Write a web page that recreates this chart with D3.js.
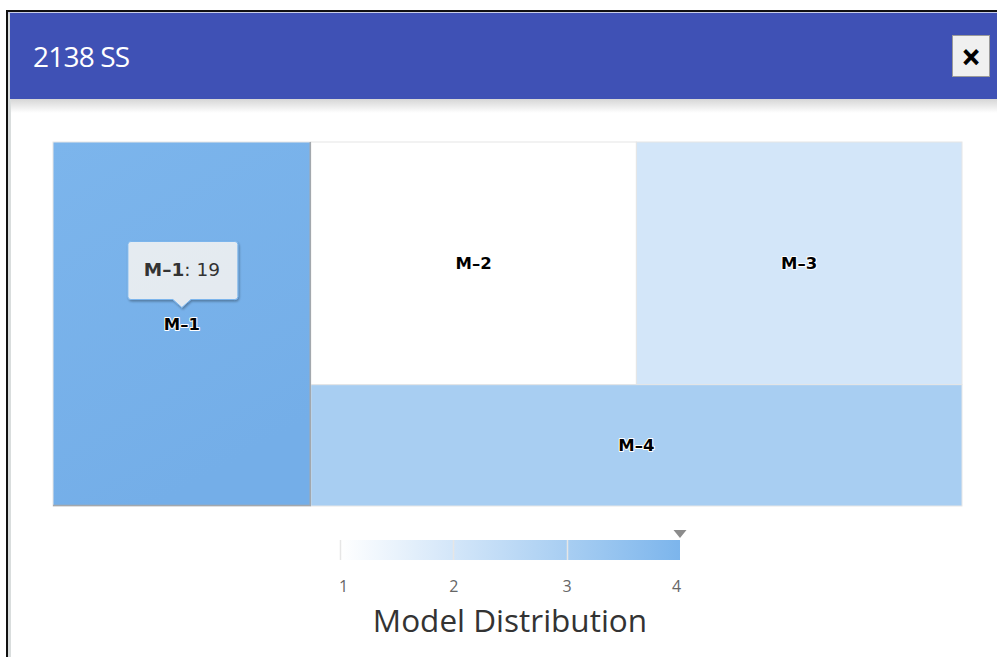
<!DOCTYPE html>
<html>
<head>
<meta charset="utf-8">
<script src="https://cdn.jsdelivr.net/npm/d3@7"></script>
<style>
  body { margin: 0; background: #fff; }
  svg { display: block; }
</style>
</head>
<body>
<div id="chart"></div>
<script>
// Data
const dialogTitle = "2138 SS";
const models = ["M–1", "M–2", "M–3", "M–4"];
const modelCounts = [19, 16, 16, 16];
const modelColorValues = [4, 1, 2, 3];
const colorTicks = [1, 2, 3, 4];
const legendTitle = "Model Distribution";
const hoveredModel = "M–1";

const width = 997;
const height = 657;

const svg = d3.select("#chart")
  .append("svg")
  .attr("width", width)
  .attr("height", height);

const defs = svg.append("defs");

// header shadow
const hs = defs.append("linearGradient").attr("id", "hdrShadow")
  .attr("x1", 0).attr("y1", 0).attr("x2", 0).attr("y2", 1);
hs.append("stop").attr("offset", 0).attr("stop-color", "#d6d6d6");
hs.append("stop").attr("offset", 1).attr("stop-color", "#ffffff");

const tipShadow = defs.append("filter").attr("id", "tipShadow")
  .attr("x", "-20%").attr("y", "-20%").attr("width", "150%").attr("height", "150%");
tipShadow.append("feDropShadow")
  .attr("dx", 1).attr("dy", 1.5).attr("stdDeviation", 1.2)
  .attr("flood-color", "#000").attr("flood-opacity", 0.35);

// Dialog frame
svg.append("rect").attr("x", 6).attr("y", 10).attr("width", width - 6).attr("height", 2).attr("fill", "#111");
svg.append("rect").attr("x", 6).attr("y", 10).attr("width", 2).attr("height", height - 10).attr("fill", "#111");
svg.append("rect").attr("x", 8).attr("y", 12).attr("width", 3).attr("height", height - 12).attr("fill", "#d9dddd");
svg.append("rect").attr("x", 8).attr("y", 12).attr("width", width - 8).attr("height", 2).attr("fill", "#c9cee9");

// Header
svg.append("rect").attr("x", 10).attr("y", 13).attr("width", width - 10).attr("height", 86).attr("fill", "#3f51b5");
svg.append("rect").attr("x", 11).attr("y", 99).attr("width", width - 11).attr("height", 14).attr("fill", "url(#hdrShadow)");
svg.append("text")
  .attr("x", 33).attr("y", 67)
  .attr("fill", "#fff")
  .attr("font-family", "'Open Sans', sans-serif")
  .attr("font-size", 28)
  .attr("letter-spacing", -0.8)
  .text(dialogTitle);

// Close button
svg.append("rect").attr("x", 952.5).attr("y", 35.5).attr("width", 37).attr("height", 41)
  .attr("fill", "#f0f0f0").attr("stroke", "#9a9a9a");
svg.append("text")
  .attr("x", 971).attr("y", 65)
  .attr("text-anchor", "middle")
  .attr("font-family", "'DejaVu Sans', sans-serif")
  .attr("font-weight", "bold")
  .attr("font-size", 24)
  .attr("fill", "#000")
  .attr("stroke", "#000")
  .attr("stroke-width", 1)
  .text("×");

// Treemap
const tm = { x0: 53, y0: 142, x1: 962, y1: 506 };

// alternating-direction squarified tiling
function tileAlternate(parent, x0, y0, x1, y1) {
  const nodes = parent.children;
  let rest = parent.value, i = 0;
  let vertical = (x1 - x0) >= (y1 - y0);
  while (i < nodes.length) {
    const w = x1 - x0, h = y1 - y0;
    const worst = (row, sum) => {
      let m = 0;
      row.forEach(n => {
        const a = (sum / rest) * (vertical ? w : h);
        const b = (n.value / sum) * (vertical ? h : w);
        m = Math.max(m, a / b, b / a);
      });
      return m;
    };
    let row = [nodes[i]], sum = nodes[i].value, best = worst(row, sum);
    let j = i + 1;
    while (j < nodes.length) {
      const s2 = sum + nodes[j].value, r2 = row.concat(nodes[j]);
      const wv = worst(r2, s2);
      if (wv > best) break;
      row = r2; sum = s2; best = wv; j++;
    }
    const strip = { children: row, value: sum };
    if (vertical) {
      const cw = (sum / rest) * w;
      d3.treemapSlice(strip, x0, y0, x0 + cw, y1);
      x0 += cw;
    } else {
      const ch = (sum / rest) * h;
      d3.treemapDice(strip, x0, y0, x1, y0 + ch);
      y0 += ch;
    }
    rest -= sum; i = j; vertical = !vertical;
  }
}

const root = d3.hierarchy({
  children: models.map((m, i) => ({ name: m, value: modelCounts[i], colorValue: modelColorValues[i] }))
}).sum(d => d.value || 0);

d3.treemap()
  .tile(tileAlternate)
  .size([tm.x1 - tm.x0, tm.y1 - tm.y0])(root);

const color = d3.scaleLinear()
  .domain(d3.extent(colorTicks))
  .range(["#ffffff", "#7cb5ec"]);

// hovered cell gets a slightly darker gradient
const hg = defs.append("linearGradient").attr("id", "hoverFill")
  .attr("x1", 0).attr("y1", 0).attr("x2", 0.4).attr("y2", 1);
hg.append("stop").attr("offset", 0).attr("stop-color", "#7cb5ec");
hg.append("stop").attr("offset", 1).attr("stop-color", "#74aee8");

const gTree = svg.append("g").attr("transform", `translate(${tm.x0},${tm.y0})`);

const cell = gTree.selectAll("g.cell")
  .data(root.leaves())
  .join("g")
  .attr("class", "cell");

cell.append("rect")
  .attr("x", d => d.x0)
  .attr("y", d => d.y0)
  .attr("width", d => d.x1 - d.x0)
  .attr("height", d => d.y1 - d.y0)
  .attr("fill", d => d.data.name === hoveredModel ? "url(#hoverFill)" : color(d.data.colorValue))
  .attr("stroke", "#e6e6e6")
  .attr("stroke-width", 1);

// hover edge on the hovered cell
const hov = root.leaves().find(d => d.data.name === hoveredModel);
gTree.append("path")
  .attr("d", `M${hov.x1 - 0.5},${hov.y0}V${hov.y1 - 0.5}H${hov.x0}`)
  .attr("fill", "none")
  .attr("stroke", "#a3a8ad")
  .attr("stroke-width", 1.5);

cell.append("text")
  .attr("x", d => (d.x0 + d.x1) / 2)
  .attr("y", d => (d.y0 + d.y1) / 2 + 6)
  .attr("text-anchor", "middle")
  .attr("font-family", "'DejaVu Sans', Verdana, sans-serif")
  .attr("font-weight", "bold")
  .attr("font-size", 16.5)
  .attr("fill", "#000")
  .attr("stroke", "#fff")
  .attr("stroke-width", 2)
  .attr("stroke-linejoin", "round")
  .attr("paint-order", "stroke")
  .text(d => d.data.name);

// Color axis legend
const lx = d3.scaleLinear().domain(d3.extent(colorTicks)).range([340, 680]);
const legY = 540, legH = 20;

const lg = defs.append("linearGradient").attr("id", "legendGrad")
  .attr("x1", 0).attr("y1", 0).attr("x2", 1).attr("y2", 0);
colorTicks.forEach((t, i) => {
  lg.append("stop")
    .attr("offset", i / (colorTicks.length - 1))
    .attr("stop-color", color(t));
});

svg.append("rect")
  .attr("x", lx.range()[0]).attr("y", legY)
  .attr("width", lx.range()[1] - lx.range()[0]).attr("height", legH)
  .attr("fill", "url(#legendGrad)");

svg.append("g").selectAll("line")
  .data(colorTicks.slice(0, -1))
  .join("line")
  .attr("x1", d => Math.round(lx(d)) + 0.5).attr("x2", d => Math.round(lx(d)) + 0.5)
  .attr("y1", legY).attr("y2", legY + legH)
  .attr("stroke", "#e6e6e6")
  .attr("stroke-width", 1.5);

const axis = svg.append("g")
  .attr("transform", `translate(0,${legY + legH})`)
  .call(d3.axisBottom(lx).tickValues(colorTicks).tickSize(0).tickFormat(d3.format("d")));
axis.select(".domain").remove();
axis.selectAll("text")
  .attr("y", 32)
  .attr("dy", null)
  .attr("font-family", "'Open Sans', sans-serif")
  .attr("font-size", 16)
  .attr("fill", "#666")
  .attr("dx", (d, i) => i === 0 ? 3 : (i === colorTicks.length - 1 ? -4 : 0));

// hover marker on the color axis
const hv = lx(hov.data.colorValue);
svg.append("path")
  .attr("d", `M${hv - 6.5},${legY - 10}L${hv + 6.5},${legY - 10}L${hv},${legY - 2}Z`)
  .attr("fill", "#8c8c8c");

svg.append("text")
  .attr("x", (lx.range()[0] + lx.range()[1]) / 2)
  .attr("y", 632)
  .attr("text-anchor", "middle")
  .attr("font-family", "'Open Sans', sans-serif")
  .attr("font-size", 31.5)
  .attr("fill", "#333")
  .text(legendTitle);

// Tooltip for hovered cell
const cx = (hov.x0 + hov.x1) / 2 + tm.x0;
const cy = (hov.y0 + hov.y1) / 2 + tm.y0;
const tipX = cx, tipY = cy - 16.5;
const bw = 110, bh = 58, r = 3;
const bx = tipX - bw / 2 + 1, by = tipY - 8 - bh;
const p = d3.path();
p.moveTo(bx + r, by);
p.lineTo(bx + bw - r, by);
p.arcTo(bx + bw, by, bx + bw, by + r, r);
p.lineTo(bx + bw, by + bh - r);
p.arcTo(bx + bw, by + bh, bx + bw - r, by + bh, r);
p.lineTo(tipX + 9, by + bh);
p.lineTo(tipX, tipY);
p.lineTo(tipX - 9, by + bh);
p.lineTo(bx + r, by + bh);
p.arcTo(bx, by + bh, bx, by + bh - r, r);
p.lineTo(bx, by + r);
p.arcTo(bx, by, bx + r, by, r);
p.closePath();

svg.append("path")
  .attr("d", p.toString())
  .attr("fill", "rgba(247,247,247,0.85)")
  .attr("stroke", "#7cb5ec")
  .attr("stroke-width", 1)
  .attr("filter", "url(#tipShadow)");

const tt = svg.append("text")
  .attr("x", tipX)
  .attr("y", by + 34)
  .attr("text-anchor", "middle")
  .attr("font-family", "'DejaVu Sans', Verdana, sans-serif")
  .attr("font-size", 18.5)
  .attr("fill", "#333");
tt.append("tspan").attr("font-weight", "bold").text(hov.data.name);
tt.append("tspan").text(": " + hov.data.value);
</script>
</body>
</html>
